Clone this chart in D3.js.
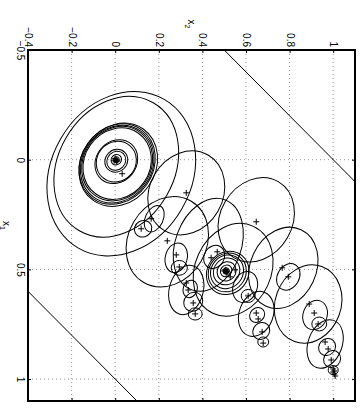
<!DOCTYPE html>
<html>
<head>
<meta charset="utf-8">
<script src="https://cdn.jsdelivr.net/npm/d3@7"></script>
<style>
  body { margin: 0; background: #fff; }
  svg { display: block; font-family: "Liberation Sans", Arial, sans-serif; }
</style>
</head>
<body>
<svg id="chart" width="363" height="411"></svg>
<script>
// axis ticks
const x2Ticks = [-0.4, -0.2, 0, 0.2, 0.4, 0.6, 0.8, 1];
const x1Ticks = [-0.5, 0, 0.5, 1];

// boundary lines (endpoints in data space)
const lineX1 = [[-0.5, 0.1], [0.6, 1.1]];
const lineX2 = [[0.5, 1.1], [-0.4, 0.1]];

// component means (+ markers)
const crossX2 = [0.005, 0.000, 0.009, 0.005, -0.005, 0.032, 0.326, 0.647, 0.165, 0.119, 0.239, 0.280, 0.294,
  0.440, 0.468, 0.509, 0.505, 0.514, 0.509, 0.500, 0.550, 0.528, 0.610, 0.766, 0.794, 0.326, 0.335, 0.358, 0.367,
  0.647, 0.656, 0.674, 0.679, 0.890, 0.913, 0.931, 0.963, 0.977, 0.991, 1.000, 1.005, 1.000, 1.009, 1.005];
const crossX1 = [0.000, -0.005, 0.005, 0.009, 0.005, 0.064, 0.151, 0.283, 0.269, 0.315, 0.370, 0.434, 0.489,
  0.447, 0.420, 0.507, 0.502, 0.511, 0.516, 0.507, 0.502, 0.534, 0.621, 0.493, 0.534, 0.562, 0.594, 0.653, 0.703,
  0.699, 0.726, 0.785, 0.836, 0.658, 0.699, 0.749, 0.831, 0.863, 0.913, 0.954, 0.977, 0.968, 0.986, 0.963];

// covariance ellipses: centre, semi-axes, orientation (deg)
const ellX2 = [0.005, 0.005, 0.005, 0.005, 0.005, 0.005, 0.009, 0.009, 0.009, 0.009, 0.014, 0.005, 0.028,
  0.326, 0.647, 0.239, 0.427, 0.541, 0.771, 0.885, 0.963, 0.647, 0.326,
  0.179, 0.128, 0.280, 0.294, 0.344, 0.358, 0.367, 0.454, 0.596, 0.610, 0.794, 0.917, 0.936, 0.972, 0.995, 1.000,
  0.651, 0.670, 0.679,
  0.509, 0.509, 0.511, 0.511, 0.513, 0.514, 0.516];
const ellX1 = [0.000, 0.000, 0.005, 0.005, 0.009, 0.009, 0.018, 0.018, 0.020, 0.020, 0.023, 0.032, 0.064,
  0.151, 0.274, 0.374, 0.388, 0.502, 0.493, 0.658, 0.840, 0.703, 0.594,
  0.269, 0.315, 0.447, 0.493, 0.589, 0.648, 0.703, 0.443, 0.580, 0.621, 0.534, 0.708, 0.749, 0.854, 0.909, 0.959,
  0.708, 0.781, 0.831,
  0.507, 0.507, 0.509, 0.509, 0.511, 0.514, 0.516];
const ellA = [0.014, 0.025, 0.046, 0.055, 0.106, 0.096, 0.170, 0.178, 0.186, 0.193, 0.200, 0.339, 0.394,
  0.200, 0.202, 0.216, 0.220, 0.220, 0.193, 0.183, 0.115, 0.106, 0.115,
  0.064, 0.041, 0.069, 0.037, 0.041, 0.046, 0.032, 0.055, 0.073, 0.032, 0.064, 0.069, 0.034, 0.041, 0.041, 0.023,
  0.037, 0.041, 0.025,
  0.014, 0.028, 0.046, 0.064, 0.080, 0.092, 0.103];
const ellB = [0.014, 0.023, 0.041, 0.050, 0.092, 0.089, 0.150, 0.155, 0.160, 0.165, 0.170, 0.266, 0.321,
  0.168, 0.165, 0.179, 0.151, 0.174, 0.151, 0.151, 0.078, 0.078, 0.078,
  0.041, 0.037, 0.050, 0.034, 0.032, 0.041, 0.028, 0.046, 0.055, 0.030, 0.050, 0.055, 0.032, 0.037, 0.037, 0.021,
  0.032, 0.037, 0.023,
  0.013, 0.025, 0.042, 0.058, 0.073, 0.084, 0.094];
const ellAng = [0, -45, -45, -45, -50, -50, -55, -55, -55, -55, -55, -60, -60,
  -60, -60, -60, -70, -65, -65, -70, -70, -70, -75,
  -65, -30, -75, 0, -70, -45, 0, -60, -70, 0, -60, -70, 0, -45, -45, 0,
  -45, -45, 0,
  -50, -50, -50, -50, -50, -50, -50];

const svg = d3.select('#chart');
const pL = 28, pR = 355, pT = 50, pB = 401;

const x2 = d3.scaleLinear().domain([-0.4, 1.1]).range([pL, pR]);
const x1 = d3.scaleLinear().domain([-0.5, 1.1]).range([pT, pB]);
const unit = x2(1) - x2(0);

// grid
svg.append('g').selectAll('line').data(x2Ticks).enter().append('line')
  .attr('x1', d => x2(d)).attr('x2', d => x2(d))
  .attr('y1', pT).attr('y2', pB)
  .attr('stroke', '#999').attr('stroke-width', 1).attr('stroke-dasharray', '1,3');
svg.append('g').selectAll('line').data(x1Ticks).enter().append('line')
  .attr('y1', d => x1(d)).attr('y2', d => x1(d))
  .attr('x1', pL).attr('x2', pR)
  .attr('stroke', '#999').attr('stroke-width', 1).attr('stroke-dasharray', '1,3');

const plot = svg.append('g');

// boundary lines
plot.selectAll('.bound').data(lineX1).enter().append('line')
  .attr('class', 'bound')
  .attr('x1', (d, i) => x2(lineX2[i][0])).attr('y1', d => x1(d[0]))
  .attr('x2', (d, i) => x2(lineX2[i][1])).attr('y2', d => x1(d[1]))
  .attr('stroke', '#000').attr('stroke-width', 1);

// ellipses
plot.selectAll('ellipse').data(ellX1).enter().append('ellipse')
  .attr('cx', (d, i) => x2(ellX2[i]))
  .attr('cy', d => x1(d))
  .attr('rx', (d, i) => ellA[i] * unit)
  .attr('ry', (d, i) => ellB[i] * unit)
  .attr('transform', (d, i) => 'rotate(' + ellAng[i] + ',' + x2(ellX2[i]) + ',' + x1(d) + ')')
  .attr('fill', 'none').attr('stroke', '#000').attr('stroke-width', 1);

// means
plot.selectAll('.cross').data(crossX1).enter().append('path')
  .attr('class', 'cross')
  .attr('transform', (d, i) => 'translate(' + x2(crossX2[i]) + ',' + x1(d) + ')')
  .attr('d', 'M-3,0H3M0,-3V3')
  .attr('stroke', '#000').attr('stroke-width', 1).attr('fill', 'none');

// axes
const axTop = svg.append('g').attr('transform', 'translate(0,' + pT + ')')
  .call(d3.axisTop(x2).tickValues(x2Ticks).tickSizeInner(-3).tickSizeOuter(0).tickFormat(d3.format('')));
axTop.selectAll('text')
  .attr('x', 0).attr('y', 0).attr('dy', '0.35em')
  .attr('transform', 'translate(0,-3) rotate(90)')
  .attr('text-anchor', 'end');

const axLeft = svg.append('g').attr('transform', 'translate(' + pL + ',0)')
  .call(d3.axisLeft(x1).tickValues(x1Ticks).tickSizeInner(-3).tickSizeOuter(0).tickFormat(d3.format('')));
axLeft.selectAll('text')
  .attr('x', 0).attr('y', 0).attr('dy', '0.35em')
  .attr('transform', 'translate(-8,0) rotate(90)')
  .attr('text-anchor', 'middle');

svg.append('g').attr('transform', 'translate(0,' + pB + ')')
  .call(d3.axisBottom(x2).tickValues(x2Ticks).tickSizeInner(-3).tickSizeOuter(0).tickFormat(''));
svg.append('g').attr('transform', 'translate(' + pR + ',0)')
  .call(d3.axisRight(x1).tickValues(x1Ticks).tickSizeInner(-3).tickSizeOuter(0).tickFormat(''));

svg.selectAll('.domain').remove();
svg.selectAll('.tick text').attr('font-size', 10).attr('fill', '#000')
  .attr('font-family', '"Liberation Sans", Arial, sans-serif');
svg.selectAll('.tick line').attr('stroke', '#000');

// frame
svg.append('rect')
  .attr('x', pL).attr('y', pT)
  .attr('width', pR - pL).attr('height', pB - pT)
  .attr('fill', 'none').attr('stroke', '#000').attr('stroke-width', 2);

// axis titles
const t2 = svg.append('text')
  .attr('transform', 'translate(' + ((pL + pR) / 2) + ',24) rotate(90)')
  .attr('text-anchor', 'middle').attr('dy', '0.35em').attr('font-size', 10);
t2.append('tspan').text('x');
t2.append('tspan').attr('dy', 3).attr('font-size', 7).text('2');

const t1 = svg.append('text')
  .attr('transform', 'translate(6,' + ((pT + pB) / 2) + ') rotate(90)')
  .attr('text-anchor', 'middle').attr('dy', '0.35em').attr('font-size', 10);
t1.append('tspan').text('x');
t1.append('tspan').attr('dy', 3).attr('font-size', 7).text('1');
</script>
</body>
</html>
